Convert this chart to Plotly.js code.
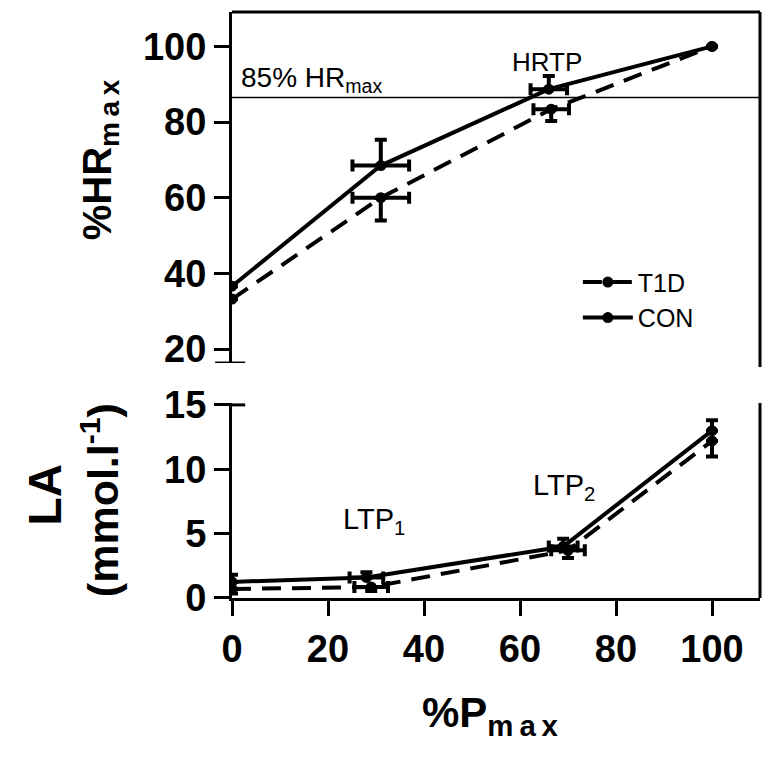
<!DOCTYPE html>
<html>
<head>
<meta charset="utf-8">
<script src="https://cdn.plot.ly/plotly-3.0.1.min.js"></script>
<style>html,body{margin:0;padding:0;background:#fff;}#chart{width:768px;height:759px;}</style>
</head>
<body>
<div id="chart"></div>
<script>
// ---- Data ----
const groups = ["T1D", "CON"];

// Top panel: %HRmax vs %Pmax
const hrX_T1D = [0, 31, 66.5, 100];
const hrY_T1D = [33.2, 60, 83.4, 100];
const hrYerrDown_T1D = [NaN, 6.0, 3.1, NaN];
const hrXerr_T1D = [NaN, 5.9, 3.7, NaN];

const hrX_CON = [0, 31, 66, 100];
const hrY_CON = [36.6, 68.5, 88.7, 100];
const hrYerrUp_CON = [NaN, 6.8, 3.5, NaN];
const hrXerr_CON = [NaN, 5.9, 3.8, NaN];

const hrThreshold = 86.5; // "85% HRmax" reference line

// Bottom panel: LA (mmol.l-1) vs %Pmax
const laX_T1D = [0, 29, 70, 100];
const laY_T1D = [0.7, 0.85, 3.7, 12.2];
const laYerrDown_T1D = [0.35, 0.3, 0.6, 1.2];
const laXerr_T1D = [NaN, 3.5, 3.5, NaN];

const laX_CON = [0, 28, 69, 100];
const laY_CON = [1.25, 1.6, 4.0, 13.0];
const laYerrUp_CON = [0.55, 0.4, 0.6, 0.8];
const laXerr_CON = [NaN, 3.5, 3.0, NaN];

const xTicks = [0, 20, 40, 60, 80, 100];
const hrTicks = [20, 40, 60, 80, 100];
const laTicks = [0, 5, 10, 15];

// ---- Styling ----
const FONT = "Liberation Sans, Arial, Helvetica, sans-serif";
const zeros = n => new Array(n).fill(0);
const lineSolid = {color: "#000", width: 4};
const lineDash = {color: "#000", width: 4, dash: "19px,11px"};
const mk = {color: "#000", size: 11, symbol: "circle"};
const eb = (extra) => Object.assign({type: "data", color: "#000", thickness: 4, width: 6, visible: true}, extra);

const traces = [
  {
    name: groups[0], x: hrX_T1D, y: hrY_T1D, xaxis: "x", yaxis: "y2",
    mode: "lines+markers", line: lineDash, marker: mk, legendrank: 1,
    error_y: eb({symmetric: false, array: zeros(hrY_T1D.length), arrayminus: hrYerrDown_T1D}),
    error_x: eb({symmetric: true, array: hrXerr_T1D})
  },
  {
    name: groups[1], x: hrX_CON, y: hrY_CON, xaxis: "x", yaxis: "y2",
    mode: "lines+markers", line: lineSolid, marker: mk, legendrank: 2,
    error_y: eb({symmetric: false, array: hrYerrUp_CON, arrayminus: zeros(hrY_CON.length)}),
    error_x: eb({symmetric: true, array: hrXerr_CON})
  },
  {
    name: groups[0], x: laX_T1D, y: laY_T1D, xaxis: "x", yaxis: "y", showlegend: false,
    mode: "lines+markers", line: lineDash, marker: mk,
    error_y: eb({symmetric: false, array: zeros(laY_T1D.length), arrayminus: laYerrDown_T1D}),
    error_x: eb({symmetric: true, array: laXerr_T1D})
  },
  {
    name: groups[1], x: laX_CON, y: laY_CON, xaxis: "x", yaxis: "y", showlegend: false,
    mode: "lines+markers", line: lineSolid, marker: mk,
    error_y: eb({symmetric: false, array: laYerrUp_CON, arrayminus: zeros(laY_CON.length)}),
    error_x: eb({symmetric: true, array: laXerr_CON})
  }
];

const tickFont = {family: FONT, size: 38, color: "#000", weight: 700};
const axisCommon = {
  showline: true, linecolor: "#000", linewidth: 3,
  ticks: "outside", ticklen: 15, tickwidth: 3, tickcolor: "#000",
  showgrid: false, zeroline: false, tickfont: tickFont, fixedrange: true
};

const layout = {
  width: 768, height: 759,
  margin: {l: 232, r: 8, t: 12, b: 161},
  paper_bgcolor: "#fff", plot_bgcolor: "#fff",
  showlegend: true,
  legend: {
    x: 0.655, y: 0.578, xanchor: "left", yanchor: "top",
    font: {family: FONT, size: 25, color: "#000"},
    bgcolor: "rgba(0,0,0,0)", itemwidth: 50, tracegroupgap: 0
  },
  xaxis: Object.assign({}, axisCommon, {
    range: [0, 110], tickvals: xTicks, ticktext: xTicks.map(String),
    anchor: "y", domain: [0, 1]
  }),
  yaxis: Object.assign({}, axisCommon, {
    range: [0, 15.15], tickvals: laTicks, ticktext: laTicks.map(String),
    domain: [0, 0.3328], anchor: "x"
  }),
  yaxis2: Object.assign({}, axisCommon, {
    range: [16.3, 109.1], tickvals: hrTicks, ticktext: hrTicks.map(String),
    domain: [0.401, 1], anchor: "x"
  }),
  shapes: [
    // top panel frame (top and right)
    {type: "line", xref: "paper", yref: "paper", x0: 0, x1: 1, y0: 1, y1: 1, line: {color: "#000", width: 3}},
    {type: "line", xref: "paper", yref: "paper", x0: 1, x1: 1, y0: 1, y1: 0.394, line: {color: "#000", width: 3}},
    // bottom panel right edge
    {type: "line", xref: "paper", yref: "paper", x0: 1, x1: 1, y0: 0, y1: 0.3328, line: {color: "#000", width: 3}},
    // axis end caps
    {type: "line", xref: "paper", yref: "y2", x0: -0.032, x1: 0.025, y0: 16.3, y1: 16.3, line: {color: "#000", width: 3}},
    {type: "line", xref: "paper", yref: "y", x0: 0, x1: 0.025, y0: 15, y1: 15, line: {color: "#000", width: 3}},
    // 85% HRmax line
    {type: "line", xref: "paper", yref: "y2", x0: 0, x1: 1, y0: hrThreshold, y1: hrThreshold, line: {color: "#000", width: 1.5}}
  ],
  annotations: [
    {text: "85% HR<sub>max</sub>", xref: "paper", yref: "y2", x: 0.013, y: 91.2, xanchor: "left", yanchor: "middle",
     showarrow: false, font: {family: FONT, size: 28, color: "#000"}},
    {text: "HRTP", xref: "x", yref: "y2", x: 65.6, y: 95.9, xanchor: "center", yanchor: "middle",
     showarrow: false, font: {family: FONT, size: 26, color: "#000"}},
    {text: "LTP<sub>1</sub>", xref: "x", yref: "y", x: 29.5, y: 6.0, xanchor: "center", yanchor: "middle",
     showarrow: false, font: {family: FONT, size: 29, color: "#000"}},
    {text: "LTP<sub>2</sub>", xref: "x", yref: "y", x: 69.2, y: 8.6, xanchor: "center", yanchor: "middle",
     showarrow: false, font: {family: FONT, size: 29, color: "#000"}},
    {text: "%HR<sub>m\u2009a\u2009x</sub>", xref: "paper", yref: "paper", x: -0.25, y: 0.747, textangle: -90,
     xanchor: "center", yanchor: "middle", showarrow: false, font: {family: FONT, size: 40, color: "#000", weight: 700}},
    {text: "LA", xref: "paper", yref: "paper", x: -0.355, y: 0.176, textangle: -90,
     xanchor: "center", yanchor: "middle", showarrow: false, font: {family: FONT, size: 46, color: "#000", weight: 700}},
    {text: "(mmol.l<sup>-1</sup>)", xref: "paper", yref: "paper", x: -0.25, y: 0.167, textangle: -90,
     xanchor: "center", yanchor: "middle", showarrow: false, font: {family: FONT, size: 43, color: "#000", weight: 700}},
    {text: "%P<sub>m\u2009a\u2009x</sub>", xref: "paper", yref: "paper", x: 0.49, y: -0.2, 
     xanchor: "center", yanchor: "middle", showarrow: false, font: {family: FONT, size: 42, color: "#000", weight: 700}}
  ]
};

Plotly.newPlot("chart", traces, layout, {displayModeBar: false, staticPlot: true});
</script>
</body>
</html>
